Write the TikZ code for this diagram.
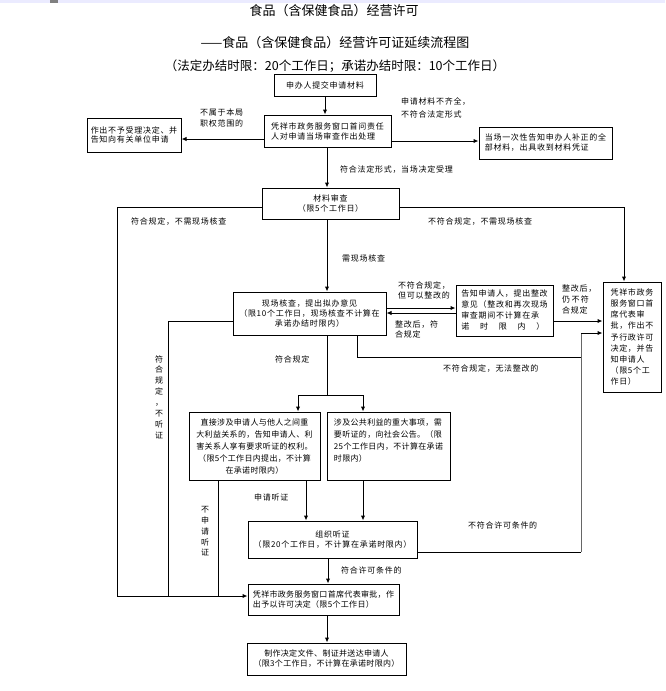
\documentclass[tikz,border=0pt]{standalone}
\usepackage{fontspec}
\setmainfont{Noto Sans CJK SC}
\newfontfamily\cjk[LetterSpace=9]{Noto Sans CJK SC}
\newfontfamily\cjkt[LetterSpace=4]{Noto Sans CJK SC}
\newfontfamily\ttlfont{Noto Sans CJK SC}
\usetikzlibrary{arrows.meta,calc}
\tikzset{
  box/.style={draw, line width=1pt, inner sep=1pt, align=left, font={\fontsize{8}{10}\selectfont\cjk}},
  lbl/.style={inner sep=0pt, align=left, font={\fontsize{8}{11}\selectfont\cjk}},
  ttl/.style={inner sep=0pt, font={\fontsize{13}{13}\selectfont\ttlfont}},
  ln/.style={line width=1pt},
  arr/.style={line width=1pt, -{Latex[length=5pt,width=4.5pt]}}
}
\begin{document}
\begin{tikzpicture}[x=1pt,y=-1pt]
\fill[white] (0,0) rectangle (665,691);
\useasboundingbox (0,0) rectangle (665,691);
\fill[blue!8] (0,0) rectangle (665,2.5);
\fill[gray] (50,0) rectangle (58,3);

% titles
\node[ttl] (t1) at (334,11) {食品（含保健食品）经营许可};
\node[ttl] (t2) at (335,43) {——食品（含保健食品）经营许可证延续流程图};
\node[ttl, font={\fontsize{12.5}{13}\selectfont\ttlfont}] (t3) at (335,66) {（法定办结时限：20个工作日；承诺办结时限：10个工作日）};

% boxes
\node[box, align=center, minimum width=102pt, minimum height=22pt] (b1) at (325,85) {申办人提交申请材料};
\node[box, minimum width=127pt, minimum height=32pt] (b2) at (327.5,131) {凭祥市政务服务窗口首问责任\\人对申请当场审查作出处理};
\node[box, minimum width=94pt, minimum height=34pt, font={\fontsize{8}{9.5}\selectfont\cjk}] (lb) at (134,135) {作出不予受理决定、并\\告知向有关单位申请};
\node[box, minimum width=133pt, minimum height=32pt] (rb) at (545.5,143) {当场一次性告知申办人补正的全\\部材料，出具收到材料凭证};
\node[box, align=center, minimum width=137pt, minimum height=31pt] (b3) at (330.5,203.5) {材料审查\\（限5个工作日）};
\node[box, align=center, minimum width=153pt, minimum height=43pt] (b4) at (309.5,313.5) {现场核查，提出拟办意见\\（限10个工作日，现场核查不计算在\\承诺办结时限内）};
\node[box, minimum width=97pt, minimum height=51pt, font={\fontsize{8}{11}\selectfont\cjk}] (b5) at (504.5,310.5) {告知申请人，提出整改\\意见（整改和再次现场\\审查期间不计算在承\\\makebox[83pt][s]{诺\hfil 时\hfil 限\hfil 内\hfil ）}};
\node[box, minimum width=58pt, minimum height=110pt, font={\fontsize{8}{11.2}\selectfont\cjk}] (tall) at (632,337) {凭祥市政务\\服务窗口首\\席代表审\\批，作出不\\予行政许可\\决定，并告\\知申请人\\（限5个工\\作日）};
\node[box, align=center, minimum width=131pt, minimum height=68pt, font={\fontsize{8}{12}\selectfont\cjkt}] (b6) at (254.5,446) {直接涉及申请人与他人之间重\\大利益关系的，告知申请人、利\\害关系人享有要求听证的权利。\\（限5个工作日内提出，不计算\\在承诺时限内）};
\node[box, minimum width=123pt, minimum height=68pt, font={\fontsize{8}{12}\selectfont\cjkt}] (b7) at (388.5,446) {涉及公共利益的重大事项，需\\要听证的，向社会公告。（限\\25个工作日内，不计算在承诺\\时限内）\\\mbox{}};
\node[box, align=center, minimum width=169pt, minimum height=37pt] (b8) at (332.5,539.5) {组织听证\\（限20个工作日，不计算在承诺时限内）};
\node[box, minimum width=151pt, minimum height=31pt, font={\fontsize{8}{10}\selectfont\cjkt}] (b9) at (323.5,599.5) {凭祥市政务服务窗口首席代表审批，作\\出予以许可决定（限5个工作日）};
\node[box, align=center, minimum width=159pt, minimum height=32pt, font={\fontsize{8}{10}\selectfont\cjkt}] (b10) at (326.5,659) {制作决定文件、制证并送达申请人\\（限3个工作日，不计算在承诺时限内）};

% labels
\node[lbl, anchor=west] (l1) at (200,117.5) {不属于本局\\职权范围的};
\node[lbl, anchor=west, font={\fontsize{8}{12.5}\selectfont\cjk}] (l2) at (401,108) {申请材料不齐全，\\不符合法定形式};
\node[lbl, anchor=west] (l3) at (340,170) {符合法定形式，当场决定受理};
\node[lbl, anchor=west] (l4) at (131,222) {符合规定，不需现场核查};
\node[lbl, anchor=west] (l5) at (428,222) {不符合规定，不需现场核查};
\node[lbl, anchor=west] (l6) at (342,258) {需现场核查};
\node[lbl, anchor=west, font={\fontsize{8}{10.5}\selectfont\cjk}] (l7) at (398,290.5) {不符合规定，\\但可以整改的};
\node[lbl, anchor=west, font={\fontsize{8}{10}\selectfont\cjk}] (l8) at (395,329.5) {整改后，符\\合规定};
\node[lbl, anchor=west, font={\fontsize{8}{10.8}\selectfont\cjk}] (l9) at (562,299.5) {整改后，\\仍\,不\,符\\合规定};
\node[lbl, anchor=west] (l10) at (443,369) {不符合规定，无法整改的};
\node[lbl, anchor=west] (l11) at (275,359) {符合规定};
\node[lbl, align=center, font={\fontsize{8}{10.9}\selectfont\cjk}] (v1) at (159,397) {符\\合\\规\\定\\，\\不\\听\\证};
\node[lbl, align=center, font={\fontsize{8}{10.75}\selectfont\cjk}] (v2) at (205,531.5) {不\\申\\请\\听\\证};
\node[lbl, anchor=west] (l12) at (254,497) {申请听证};
\node[lbl, anchor=west] (l13) at (468,525) {不符合许可条件的};
\node[lbl, anchor=west] (l14) at (341,570) {符合许可条件的};

% helper coordinates
\coordinate (cL) at (117,596);
\coordinate (cR) at (624,207);
\coordinate (cA) at (357,357);
\coordinate (cB) at (581,357);
\coordinate (cC) at (581,552);
\coordinate (cD) at (581,333);
\coordinate (cE) at (168,596);
\coordinate (cF) at (327,395);
\coordinate (cG) at (298,395);
\coordinate (cH) at (363,395);
\coordinate (cI) at (218,596);

% connectors
\draw[arr] (b1.south) -- (b1.south |- b2.north);
\draw[arr] (b2.south -| 327,0) -- (b3.north -| 327,0);
\draw[arr] (b2.west |- 0,139) -- (lb.east |- 0,139);
\draw[arr] (b2.east |- 0,141) -- (rb.west |- 0,141);
\draw[arr] (b3.west |- 0,207) -| (cL) -- (b9.west |- cL);
\draw[arr] (b3.east |- cR) -- (cR) -- (tall.north -| cR);
\draw[arr] (b3.south -| 327,0) -- (b4.north -| 327,0);
\draw[arr] (b4.east |- 0,308) -- (b5.west |- 0,308);
\draw[arr] (b5.west |- 0,313) -- (b4.east |- 0,313);
\draw[arr] (b5.east |- 0,321) -- (tall.west |- 0,321);
\draw[ln] (b4.south -| cA) -- (cA) -- (cB);
\draw[ln] (b8.east |- cC) -- (cC);
\draw[ln, gray!80!black] (cC) -- (cD);
\draw[arr] (cD) -- (tall.west |- cD);
\draw[ln] (b4.west |- 0,321) -| (cE);
\draw[ln] (b4.south -| cF) -- (cF);
\draw[ln] (cG) -- (cH);
\draw[arr] (cG) -- (b6.north -| cG);
\draw[arr] (cH) -- (b7.north -| cH);
\draw[ln] (b6.south -| cI) -- (cI);
\draw[arr] (b6.south -| 306,0) -- (b8.north -| 306,0);
\draw[arr] (b7.south -| cH) -- (b8.north -| cH);
\draw[arr] (b8.south -| 328,0) -- (b9.north -| 328,0);
\draw[arr] (b9.south -| 327,0) -- (b10.north -| 327,0);
\end{tikzpicture}
\end{document}
